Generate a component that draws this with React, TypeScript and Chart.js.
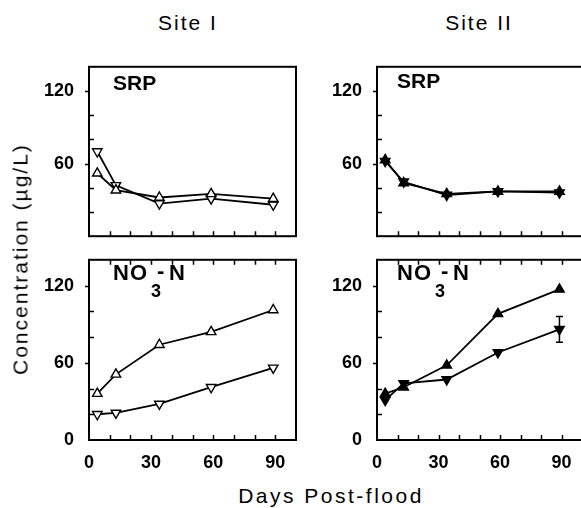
import React, { useEffect, useRef } from "react";
import { Chart, registerables } from "chart.js";

Chart.register(...registerables);

// ---- data ----
const DAYS = [4, 13, 34, 59, 89];
const SITE1_SRP_UP = [52, 38, 32, 35, 31];
const SITE1_SRP_DOWN = [70, 42, 27, 31, 26];
const SITE2_SRP_UP = [63, 44, 35, 37, 37];
const SITE2_SRP_DOWN = [62, 45, 34, 37, 36];
const SITE1_NO3_UP = [36, 51, 74, 84, 101];
const SITE1_NO3_DOWN = [20, 21, 28, 41, 56];
const SITE2_NO3_UP = [36, 41, 58, 98, 117];
const SITE2_NO3_DOWN = [31, 44, 47, 68, 86];
const SITE2_NO3_DOWN_ERR = [0, 0, 0, 0, 10];

const X_MIN = 0;
const X_MAX = 100;
const X_STEP = 10;
const X_LABELS = [0, 30, 60, 90];
const Y_MIN = 0;
const Y_MAX = 140;
const Y_STEP = 20;
const Y_LABELS_TOP = [60, 120];
const Y_LABELS_BOTTOM = [0, 60, 120];

// ---- layout ----
const WY = 60;
const PAD = 6;
const HX = 30;
const FONT = "'Liberation Sans', Arial, Helvetica, sans-serif";

function series(vals: number[], filled: boolean, down: boolean, errs?: number[]) {
  return {
    data: DAYS.map((d, i) => ({ x: d, y: vals[i] })),
    borderColor: "#000",
    borderWidth: 1.8,
    pointStyle: "triangle",
    pointRotation: down ? 180 : 0,
    pointRadius: 5.5,
    pointHoverRadius: 5.5,
    pointBackgroundColor: filled ? "#000" : "#fff",
    pointBorderColor: "#000",
    pointBorderWidth: 1.4,
    tension: 0,
    fill: false,
    errors: errs,
  };
}

const framePlugin = {
  id: "frame",
  afterDraw(chart: any, _args: any, opts: any) {
    const { ctx, chartArea: a, scales } = chart;
    const x = scales.x;
    const y = scales.y;
    ctx.save();
    ctx.strokeStyle = "#000";
    ctx.lineWidth = 2;
    ctx.strokeRect(a.left, a.top, a.right - a.left, a.bottom - a.top);
    ctx.lineWidth = 1.5;
    ctx.beginPath();
    for (let v = Y_MIN + Y_STEP; v < Y_MAX; v += Y_STEP) {
      const py = Math.round(y.getPixelForValue(v)) + 0.5;
      if ((opts.yLabels || []).includes(v)) {
        ctx.moveTo(a.left - 4, py);
        ctx.lineTo(a.left, py);
      } else {
        ctx.moveTo(a.left, py);
        ctx.lineTo(a.left + 5, py);
      }
    }
    for (let v = X_MIN + X_STEP; v < X_MAX; v += X_STEP) {
      const px = Math.round(x.getPixelForValue(v)) + 0.5;
      ctx.moveTo(px, a.bottom);
      ctx.lineTo(px, a.bottom - 5);
      if (opts.topTicks) {
        ctx.moveTo(px, a.top);
        ctx.lineTo(px, a.top + 5);
      }
    }
    ctx.stroke();
    // error bars
    ctx.lineWidth = 1.5;
    chart.data.datasets.forEach((ds: any) => {
      if (!ds.errors) return;
      ds.data.forEach((p: any, i: number) => {
        const e = ds.errors[i];
        if (!e) return;
        const px = x.getPixelForValue(p.x);
        const y1 = y.getPixelForValue(p.y - e);
        const y2 = y.getPixelForValue(p.y + e);
        ctx.beginPath();
        ctx.moveTo(px, y1);
        ctx.lineTo(px, y2);
        ctx.moveTo(px - 3.5, y1);
        ctx.lineTo(px + 3.5, y1);
        ctx.moveTo(px - 3.5, y2);
        ctx.lineTo(px + 3.5, y2);
        ctx.stroke();
      });
    });
    ctx.restore();
  },
};

type PanelProps = {
  plotLeft: number;
  plotTop: number;
  plotW: number;
  plotH: number;
  showX: boolean;
  topTicks: boolean;
  yLabels: number[];
  datasets: any[];
};

function Panel(props: PanelProps) {
  const ref = useRef<HTMLCanvasElement | null>(null);
  const { plotLeft, plotTop, plotW, plotH, showX, topTicks, yLabels, datasets } = props;
  const w = WY + plotW + 2 * PAD;
  const h = plotH + (showX ? HX : 0) + 2 * PAD;
  const left = plotLeft - WY - PAD;
  const top = plotTop - PAD;

  useEffect(() => {
    if (!ref.current) return;
    const chart = new Chart(ref.current, {
      type: "line",
      data: { datasets },
      plugins: [framePlugin],
      options: {
        responsive: false,
        animation: false,
        events: [],
        layout: { padding: PAD, autoPadding: false },
        plugins: {
          legend: { display: false },
          tooltip: { enabled: false },
          frame: { yLabels, topTicks },
        },
        scales: {
          x: {
            type: "linear",
            min: X_MIN,
            max: X_MAX,
            grid: { display: false },
            border: { display: false },
            afterFit: (s: any) => {
              s.height = showX ? HX : 0;
            },
            ticks: {
              display: showX,
              stepSize: X_STEP,
              autoSkip: false,
              maxRotation: 0,
              padding: 4,
              color: "#000",
              font: { family: FONT, size: 18, weight: "bold" },
              callback: (v: any) => (X_LABELS.includes(Number(v)) ? String(v) : ""),
            },
          },
          y: {
            type: "linear",
            min: Y_MIN,
            max: Y_MAX,
            grid: { display: false },
            border: { display: false },
            afterFit: (s: any) => {
              s.width = WY;
            },
            ticks: {
              stepSize: Y_STEP,
              autoSkip: false,
              padding: 7,
              color: "#000",
              font: { family: FONT, size: 18, weight: "bold" },
              callback: (v: any) => (yLabels.includes(Number(v)) ? String(v) : ""),
            },
          },
        },
      } as any,
    });
    return () => chart.destroy();
  }, []);

  return (
    <canvas
      ref={ref}
      width={w}
      height={h}
      style={{ position: "absolute", left, top, width: w, height: h }}
    />
  );
}

type TxtProps = {
  x: number;
  y: number;
  size: number;
  weight?: number | string;
  spacing?: number;
  center?: boolean;
  children: React.ReactNode;
};

function Txt({ x, y, size, weight = 400, spacing = 0, center = false, children }: TxtProps) {
  return (
    <div
      style={{
        position: "absolute",
        left: x,
        top: y - 0.8465 * size,
        fontSize: size,
        lineHeight: `${size}px`,
        fontFamily: FONT,
        fontWeight: weight as any,
        letterSpacing: spacing,
        whiteSpace: "nowrap",
        color: "#000",
        transform: center ? "translateX(-50%)" : undefined,
      }}
    >
      {children}
    </div>
  );
}

function NO3({ x }: { x: number }) {
  return (
    <>
      <Txt x={x} y={281} size={22} weight="bold" spacing={1}>NO</Txt>
      <Txt x={x + 38} y={297} size={18} weight="bold">3</Txt>
      <Txt x={x + 44} y={279} size={22} weight="bold">-</Txt>
      <Txt x={x + 56} y={281} size={22} weight="bold">N</Txt>
    </>
  );
}

export default function App() {
  const L = 89;
  const R = 377;
  const LW = 207;
  const RW = 205;
  const TOP = 55;
  const MID = 248;
  const BOT = 440;
  return (
    <div
      style={{
        position: "fixed",
        left: 0,
        top: 0,
        width: 581,
        height: 508,
        background: "#fff",
        overflow: "hidden",
      }}
    >
      <Panel
        plotLeft={L}
        plotTop={TOP}
        plotW={LW}
        plotH={MID - TOP}
        showX={false}
        topTicks={false}
        yLabels={Y_LABELS_TOP}
        datasets={[series(SITE1_SRP_UP, false, false), series(SITE1_SRP_DOWN, false, true)]}
      />
      <Panel
        plotLeft={L}
        plotTop={MID}
        plotW={LW}
        plotH={BOT - MID}
        showX={true}
        topTicks={true}
        yLabels={Y_LABELS_BOTTOM}
        datasets={[series(SITE1_NO3_UP, false, false), series(SITE1_NO3_DOWN, false, true)]}
      />
      <Panel
        plotLeft={R}
        plotTop={TOP}
        plotW={RW}
        plotH={MID - TOP}
        showX={false}
        topTicks={false}
        yLabels={Y_LABELS_TOP}
        datasets={[series(SITE2_SRP_UP, true, false), series(SITE2_SRP_DOWN, true, true)]}
      />
      <Panel
        plotLeft={R}
        plotTop={MID}
        plotW={RW}
        plotH={BOT - MID}
        showX={true}
        topTicks={true}
        yLabels={Y_LABELS_BOTTOM}
        datasets={[
          series(SITE2_NO3_UP, true, false),
          series(SITE2_NO3_DOWN, true, true, SITE2_NO3_DOWN_ERR),
        ]}
      />

      <Txt x={188} y={30} size={21} spacing={2} center>Site I</Txt>
      <Txt x={479} y={30} size={21} spacing={2} center>Site II</Txt>
      <Txt x={331} y={503} size={21} spacing={2.5} center>Days Post-flood</Txt>
      <div
        style={{
          position: "absolute",
          left: 20,
          top: 259,
          fontSize: 21,
          lineHeight: "21px",
          fontFamily: FONT,
          letterSpacing: 2,
          whiteSpace: "nowrap",
          color: "#000",
          transform: "translate(-50%, -50%) rotate(-90deg)",
        }}
      >
        Concentration (µg/L)
      </div>

      <Txt x={113} y={90} size={21} weight="bold">SRP</Txt>
      <Txt x={397} y={88} size={21} weight="bold">SRP</Txt>
      <NO3 x={113} />
      <NO3 x={397} />
    </div>
  );
}
